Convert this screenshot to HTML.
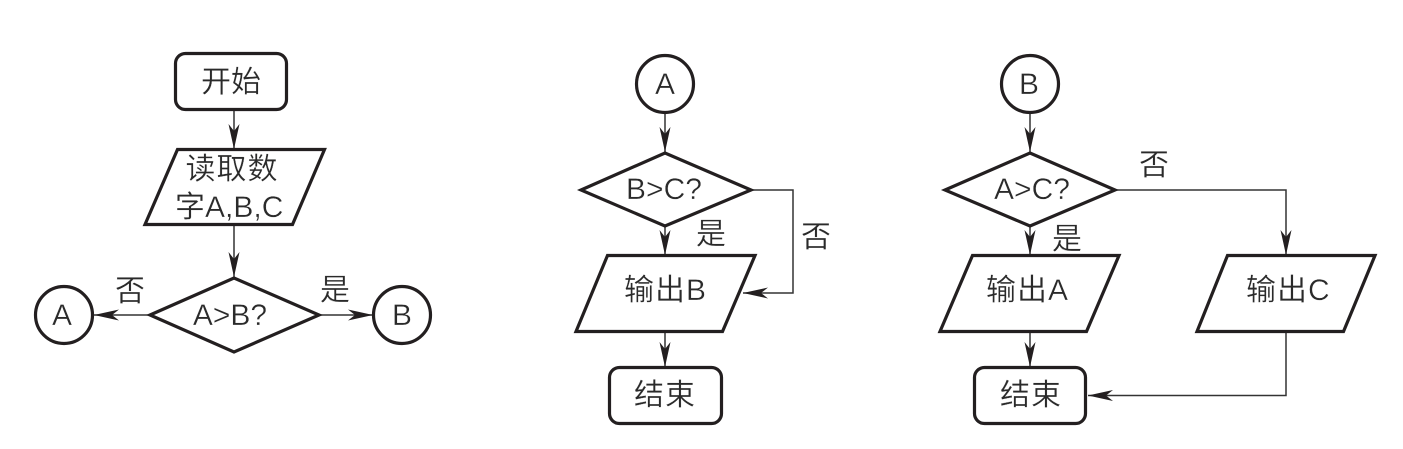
<!DOCTYPE html>
<html><head><meta charset="utf-8"><style>
html,body{margin:0;padding:0;background:#fff;width:1403px;height:449px;overflow:hidden}
svg{display:block}
text{font-family:"Liberation Sans","Noto Sans CJK SC",sans-serif;font-size:30px;fill:#2a2a2a;stroke:#fff;stroke-width:.25}
.l{stroke:#fff;stroke-width:.35}
.s{fill:#fff;stroke:#231f20;stroke-width:3.2;stroke-linejoin:miter}
.c{fill:none;stroke:#333;stroke-width:1.5}
.a{fill:#231f20;stroke:none}
</style></head><body>
<svg width="1403" height="449" viewBox="0 0 1403 449" xmlns="http://www.w3.org/2000/svg">
<defs>
<path id="ad" class="a" d="M0 0L-5.500 -25L0 -18L5.500 -25Z"/>
</defs>
<!-- connectors -->
<path class="c" d="M234 110V149M234 225V277M149 315H93M320 315H373"/>
<path class="c" d="M665 113V152M665 227V255M665 332V367M752 190H793V293H743"/>
<path class="c" d="M1030 113V152M1030 227V255M1030 332V367M1116 190H1286V255M1286 332V395.500H1088"/>
<!-- arrowheads -->
<use href="#ad" transform="translate(234,149)"/>
<use href="#ad" transform="translate(234,277)"/>
<use href="#ad" transform="translate(94,315) rotate(90)"/>
<use href="#ad" transform="translate(373,315) rotate(-90)"/>
<use href="#ad" transform="translate(665,152)"/>
<use href="#ad" transform="translate(665,255)"/>
<use href="#ad" transform="translate(665,367)"/>
<use href="#ad" transform="translate(743,293) rotate(90)"/>
<use href="#ad" transform="translate(1030,152)"/>
<use href="#ad" transform="translate(1030,255)"/>
<use href="#ad" transform="translate(1030,367)"/>
<use href="#ad" transform="translate(1286,255)"/>
<use href="#ad" transform="translate(1088,395.500) rotate(90)"/>
<!-- shapes left -->
<rect class="s" x="175.500" y="53.500" width="111" height="56" rx="10"/>
<polygon class="s" points="177.500,149.500 324.500,149.500 292.500,224.500 145,224.500"/>
<polygon class="s" points="150,315 234,278 319,315 234,352"/>
<circle class="s" cx="64" cy="315" r="28.500"/>
<circle class="s" cx="402" cy="315" r="28.500"/>
<!-- shapes middle -->
<circle class="s" cx="665" cy="84" r="28.500"/>
<polygon class="s" points="581,190 665,153 751,190 665,226"/>
<polygon class="s" points="607.500,255.500 755,255.500 722.500,331.500 576,331.500"/>
<rect class="s" x="609.500" y="367.500" width="112" height="56" rx="10"/>
<!-- shapes right -->
<circle class="s" cx="1030" cy="84" r="28.500"/>
<polygon class="s" points="945,190 1030,153 1115,190 1030,226"/>
<polygon class="s" points="972.500,255.500 1119,255.500 1086.500,331.500 940,331.500"/>
<polygon class="s" points="1227.500,255.500 1375,255.500 1343.500,331.500 1197,331.500"/>
<rect class="s" x="974.500" y="367.500" width="111" height="56" rx="10"/>
<!-- labels left -->
<text x="231" y="92" text-anchor="middle">开始</text>
<text x="232" y="179" text-anchor="middle" letter-spacing="1">读取数</text>
<text x="175" y="217">字<tspan class="l">A,B,C</tspan></text>
<text class="l" x="230" y="325" text-anchor="middle">A&gt;B?</text>
<text class="l" x="62" y="325" text-anchor="middle">A</text>
<text class="l" x="402" y="325" text-anchor="middle">B</text>
<text x="130" y="301" text-anchor="middle">否</text>
<text x="335" y="300" text-anchor="middle">是</text>
<!-- labels middle -->
<text class="l" x="665" y="94" text-anchor="middle">A</text>
<text class="l" x="664" y="199" text-anchor="middle">B&gt;C?</text>
<text x="711" y="244" text-anchor="middle">是</text>
<text x="816" y="247" text-anchor="middle">否</text>
<text x="624" y="300" letter-spacing="1">输出<tspan class="l">B</tspan></text>
<text x="665" y="405" text-anchor="middle" letter-spacing="1">结束</text>
<!-- labels right -->
<text class="l" x="1029" y="94" text-anchor="middle">B</text>
<text class="l" x="1032" y="199" text-anchor="middle">A&gt;C?</text>
<text x="1067" y="249" text-anchor="middle">是</text>
<text x="1154" y="175" text-anchor="middle">否</text>
<text x="986" y="300" letter-spacing="1">输出<tspan class="l">A</tspan></text>
<text x="1246" y="300" letter-spacing="1">输出<tspan class="l">C</tspan></text>
<text x="1031" y="405" text-anchor="middle" letter-spacing="1">结束</text>
</svg>
</body></html>
